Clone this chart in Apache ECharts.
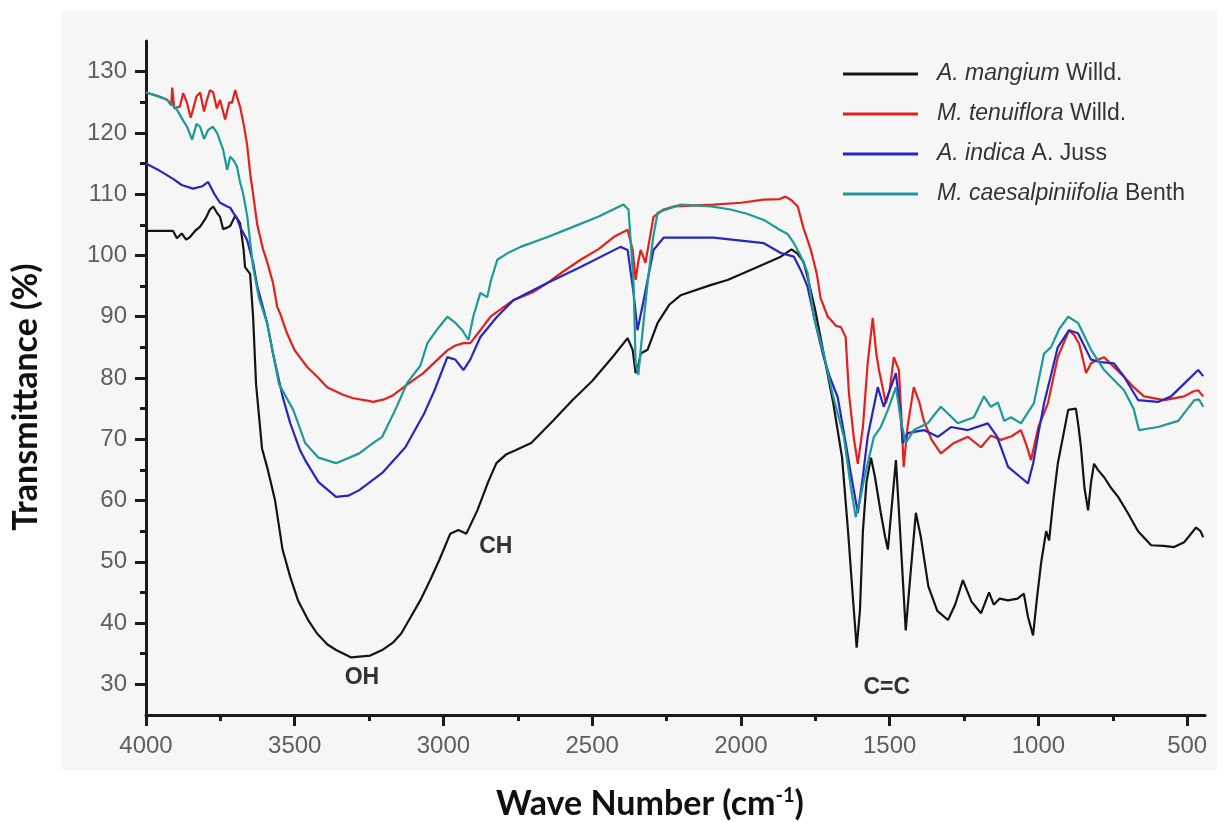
<!DOCTYPE html>
<html><head><meta charset="utf-8">
<script src="https://cdn.jsdelivr.net/npm/echarts@6/dist/echarts.min.js"></script>
<style>html,body{margin:0;padding:0;background:#fff}#c{width:1224px;height:822px}</style>
</head><body><div id="c"></div>
<script>
const seriesNames = ['A. mangium Willd.', 'M. tenuiflora Willd.', 'A. indica A. Juss', 'M. caesalpiniifolia Benth'];
const xMajorTicks = [4000,3500,3000,2500,2000,1500,1000,500];
const xMinorTicks = [3750,3250,2750,2250,1750,1250,750];
const yMajorTicks = [30,40,50,60,70,80,90,100,110,120,130];
const yMinorTicks = [35,45,55,65,75,85,95,105,115,125];

const mangium = [[4000,104],[3950,104],[3909,104],[3896,102.8],[3880,103.6],[3865,102.6],[3852,103],[3835,104],[3818,104.7],[3800,106],[3785,107.5],[3774,108],[3762,107],[3751,106.3],[3741,104.3],[3730,104.5],[3717,104.8],[3700,106.5],[3684,105.3],[3672,101],[3667,98.1],[3650,97],[3640,90],[3630,79],[3610,68.5],[3593,65.5],[3566,60],[3541,52],[3515,47.5],[3489,43.7],[3455,40.5],[3425,38.3],[3390,36.5],[3361,35.6],[3310,34.4],[3246,34.7],[3206,35.6],[3170,36.8],[3142,38.3],[3110,41],[3078,43.7],[3045,47],[3014,50.3],[2977,54.6],[2950,55.2],[2923,54.6],[2886,58.4],[2850,63],[2822,66.1],[2790,67.5],[2758,68.2],[2705,69.4],[2630,73.1],[2566,76.4],[2500,79.5],[2430,83.5],[2381,86.5],[2364,84.6],[2354,80.8],[2345,82],[2337,84],[2314,84.6],[2280,89],[2240,92],[2203,93.5],[2100,95.2],[2045,96],[1950,98],[1866,99.8],[1830,101],[1810,100.3],[1790,99],[1776,96.5],[1750,91],[1722,84],[1690,76],[1660,67],[1640,55],[1625,45],[1611,36],[1600,42],[1590,55],[1578,63],[1563,67],[1550,64],[1530,58],[1515,54],[1506,52],[1495,58],[1479,66.6],[1465,55],[1446,38.8],[1430,48],[1412,58],[1395,54],[1370,46],[1340,42],[1304,40.5],[1280,43],[1254,47],[1225,43.5],[1193,41.6],[1166,45],[1150,43],[1130,44],[1102,43.7],[1070,44],[1049,44.8],[1035,41],[1018,38],[1005,44],[991,49.8],[974,55],[964,53.5],[950,60],[935,66],[915,71],[900,74.8],[874,75],[865,72],[857,68.7],[845,62],[833,58.4],[823,63],[813,66],[800,65],[779,63.8],[755,62],[732,60.6],[700,58],[665,55],[621,52.7],[580,52.6],[544,52.4],[510,53.2],[470,55.6],[455,55],[446,54]];

const tenuiflora = [[4000,126.6],[3960,126],[3929,125.4],[3915,124.5],[3912,127.4],[3905,124],[3886,124.3],[3875,126.5],[3862,124.9],[3850,122.5],[3842,123.8],[3830,126],[3818,126.6],[3805,123.5],[3795,125.4],[3785,127],[3774,126.6],[3762,124],[3751,125.4],[3734,122.2],[3720,125],[3711,124.9],[3700,127],[3694,125.9],[3684,124.3],[3670,121],[3660,118],[3650,113.5],[3640,110],[3626,105],[3606,100.9],[3593,99],[3573,95.5],[3559,91.6],[3549,90.5],[3526,87.3],[3500,84.5],[3458,81.8],[3420,80],[3391,78.5],[3340,77.3],[3303,76.7],[3256,76.3],[3236,76.1],[3200,76.5],[3169,77.2],[3120,79],[3068,80.8],[3020,83],[2987,84.5],[2960,85.3],[2933,85.7],[2910,85.7],[2876,87.8],[2842,90],[2800,91.5],[2765,92.7],[2700,94],[2651,95.5],[2600,97.3],[2539,99.3],[2480,101],[2428,103],[2381,104.2],[2364,100.9],[2354,96],[2345,99],[2337,100.9],[2321,98.8],[2294,106.3],[2260,107.5],[2226,108],[2092,108.3],[2000,108.6],[1923,109.1],[1870,109.2],[1850,109.6],[1830,109],[1809,108],[1790,104.5],[1765,100.9],[1745,97],[1732,93],[1708,90],[1698,89.5],[1680,88.5],[1664,88.3],[1648,86.7],[1637,77.5],[1620,70],[1607,66],[1590,72],[1574,82.4],[1557,89.8],[1545,84],[1536,81.3],[1513,75.9],[1500,78],[1486,83.4],[1469,81.3],[1460,73],[1453,65.5],[1440,72],[1419,78.5],[1400,76],[1385,73],[1360,70],[1328,67.7],[1284,69.4],[1237,70.4],[1193,68.7],[1160,70.6],[1126,69.9],[1090,70.5],[1059,71.5],[1040,69],[1025,66.6],[1000,72],[968,75.9],[935,83.4],[897,87.8],[880,87],[863,85.6],[850,83],[840,80.8],[823,82.4],[800,83],[779,83.4],[740,81.5],[712,80.2],[680,78.5],[645,77],[577,76.4],[510,77],[480,77.8],[463,78],[446,77]];

const indica = [[4000,115],[3960,114],[3909,112.5],[3880,111.5],[3842,110.9],[3810,111.3],[3791,112],[3785,112],[3770,110],[3751,108.6],[3727,108],[3717,107.8],[3707,107],[3694,106],[3684,104.7],[3660,102.5],[3640,98.8],[3626,95],[3593,89],[3573,84],[3541,77],[3515,72.6],[3482,68.2],[3465,66.6],[3420,63],[3361,60.6],[3320,60.8],[3283,61.7],[3206,64.5],[3128,68.7],[3064,74.3],[3030,78],[2987,83.4],[2960,83],[2933,81.3],[2910,83],[2876,86.7],[2820,90],[2765,92.7],[2651,95.5],[2539,98.1],[2405,101.4],[2381,100.9],[2361,93.9],[2348,87.8],[2327,92.7],[2294,100.9],[2260,102.9],[2092,102.9],[1923,102],[1866,100.4],[1822,99.8],[1799,97.6],[1776,94.9],[1750,89],[1722,83.4],[1700,80],[1675,76.9],[1650,70],[1631,64.5],[1607,58],[1590,64],[1574,70.4],[1540,78.5],[1520,75.3],[1500,78],[1479,80.8],[1465,75],[1456,69.4],[1439,71],[1385,71.5],[1338,70.4],[1294,72],[1237,71.5],[1170,72.6],[1140,70.5],[1126,68.7],[1102,65.5],[1060,63.8],[1035,62.8],[1018,66],[1000,71],[981,75.9],[960,80],[935,85],[897,87.8],[867,87.3],[823,83],[790,82.6],[746,82.4],[712,80.2],[665,76.4],[598,76.1],[554,77],[497,79.7],[463,81.3],[446,80.3]];

const caesalpiniifolia = [[4000,126.6],[3960,126],[3929,125.4],[3896,123.8],[3875,122],[3862,121],[3845,118.9],[3830,121.5],[3818,121],[3805,119],[3791,120.5],[3775,121],[3761,120],[3741,117.3],[3727,114],[3717,116.1],[3705,115.5],[3694,114.5],[3684,112],[3674,110.2],[3660,106.5],[3640,98.1],[3620,93],[3593,89],[3553,79],[3505,74.8],[3465,69.4],[3420,67],[3361,66.1],[3283,67.7],[3236,69.4],[3206,70.4],[3160,75],[3122,79.2],[3078,82],[3054,85.7],[3020,88],[2987,90],[2960,89],[2937,87.8],[2916,86.2],[2900,90],[2876,93.9],[2853,93.2],[2840,96],[2819,99.3],[2780,100.5],[2741,101.4],[2650,103],[2573,104.5],[2480,106.3],[2395,108.3],[2378,107.5],[2361,95.5],[2354,82.4],[2345,80.5],[2337,84.6],[2314,95.5],[2295,103],[2280,107],[2203,108.3],[2100,108],[2035,107.5],[1980,106.8],[1923,105.8],[1870,104.2],[1843,103.5],[1822,102],[1800,100],[1776,97.2],[1755,90],[1722,84],[1690,77],[1654,70.4],[1630,62],[1614,57.3],[1600,60],[1587,63.3],[1553,70.4],[1530,72],[1506,74.8],[1479,78.5],[1462,73],[1446,69.4],[1419,71.5],[1372,72.6],[1350,74],[1328,75.3],[1300,74],[1271,72.6],[1217,73.6],[1183,77],[1160,75.3],[1136,76],[1115,73],[1092,73.6],[1059,72.6],[1015,75.9],[981,84],[958,85],[930,88],[900,90],[867,89],[823,84.6],[779,81.3],[712,78],[680,75],[662,71.5],[598,72],[530,73],[476,76.4],[460,76.5],[446,75.3]];

const bandLabels = [{name:'OH', coord:[3274,31.1]},{name:'CH', coord:[2824,52.4]},{name:'C=C', coord:[1510,29.5]}];

const legendRich = {
  'A. mangium Willd.': '{i|A. mangium} Willd.',
  'M. tenuiflora Willd.': '{i|M. tenuiflora} Willd.',
  'A. indica A. Juss': '{i|A. indica} A. Juss',
  'M. caesalpiniifolia Benth': '{i|M. caesalpiniifolia} Benth'
};
const colors = ['#141414','#e3211c','#2626c2','#1c9a97'];
const dataSets = [mangium, tenuiflora, indica, caesalpiniifolia];

const chart = echarts.init(document.getElementById('c'));
const FF = '"Liberation Sans", Arial, sans-serif';
const axisFont = {fontFamily:FF, fontSize:24, color:'#5e5e5e'};
const lineCol = '#1a1a1a';
const series = dataSets.map((d,i)=>({
  name: seriesNames[i], type:'line', data:d, showSymbol:false, symbol:'none',
  lineStyle:{width:2.2, color:colors[i]}, itemStyle:{color:colors[i]}, animation:false, z: 2+i,
  markPoint: i===0 ? {
    symbol:'circle', symbolSize:0,
    label:{show:true, formatter:'{b}', fontFamily:FF, fontWeight:'bold', fontSize:23, color:'#333', position:'inside'},
    data: bandLabels.map(b=>({name:b.name, coord:b.coord}))
  } : undefined
}));

chart.setOption({
  backgroundColor:'#ffffff',
  animation:false,
  graphic:[
    {type:'rect', z:-10, silent:true, shape:{x:62,y:11,width:1155,height:759}, style:{fill:'#f6f6f6'}},
    {type:'text', z:10, x:26, y:397, rotation:Math.PI/2, style:{text:'Transmittance (%)', font:'bold 34px Lato, "Open Sans", sans-serif', fill:'#111', textAlign:'center', textVerticalAlign:'middle'}},
    {type:'text', z:10, x:650, y:804, style:{text:'Wave Number (cm{s|-1})', rich:{s:{fontSize:20, fontWeight:'bold', fontFamily:'Lato', verticalAlign:'top', padding:[0,0,16,0]}}, font:'bold 34px Lato, "Open Sans", sans-serif', fill:'#111', textAlign:'center', textVerticalAlign:'middle'}}
  ],
  grid:{left:146, right:19, top:41, bottom:107, containLabel:false},
  legend:{
    orient:'vertical', left:843, top:62, padding:0, itemWidth:75, itemHeight:3, itemGap:16, icon:'rect',
    data: seriesNames,
    formatter: n => legendRich[n],
    textStyle:{fontFamily:FF, fontSize:23, color:'#333', lineHeight:24, padding:[0,0,0,14],
      rich:{i:{fontStyle:'italic', fontFamily:FF, fontSize:23, color:'#333', lineHeight:24}}}
  },
  xAxis:[
    {type:'value', inverse:true, min:440, max:4000, position:'bottom',
     axisLine:{show:true, onZero:false, lineStyle:{color:lineCol, width:3}},
     axisTick:{show:true, customValues:xMajorTicks, length:11, inside:false, lineStyle:{color:lineCol, width:3}},
     axisLabel:{show:true, customValues:xMajorTicks, margin:19, formatter: v => String(v), ...axisFont},
     splitLine:{show:false}},
    {type:'value', inverse:true, min:440, max:4000, position:'bottom',
     axisLine:{show:false}, axisLabel:{show:false}, splitLine:{show:false},
     axisTick:{show:true, customValues:xMinorTicks, length:6, lineStyle:{color:lineCol, width:3}}}
  ],
  yAxis:[
    {type:'value', min:25, max:135, position:'left',
     axisLine:{show:true, onZero:false, lineStyle:{color:lineCol, width:3}},
     axisTick:{show:true, customValues:yMajorTicks, length:11, lineStyle:{color:lineCol, width:3}},
     axisLabel:{show:true, customValues:yMajorTicks, margin:19, formatter: v => String(v), ...axisFont},
     splitLine:{show:false}},
    {type:'value', min:25, max:135, position:'left', offset:0,
     axisLine:{show:false}, axisLabel:{show:false}, splitLine:{show:false},
     axisTick:{show:true, customValues:yMinorTicks, length:6, lineStyle:{color:lineCol, width:3}}}
  ],
  series: series
});
</script></body></html>
